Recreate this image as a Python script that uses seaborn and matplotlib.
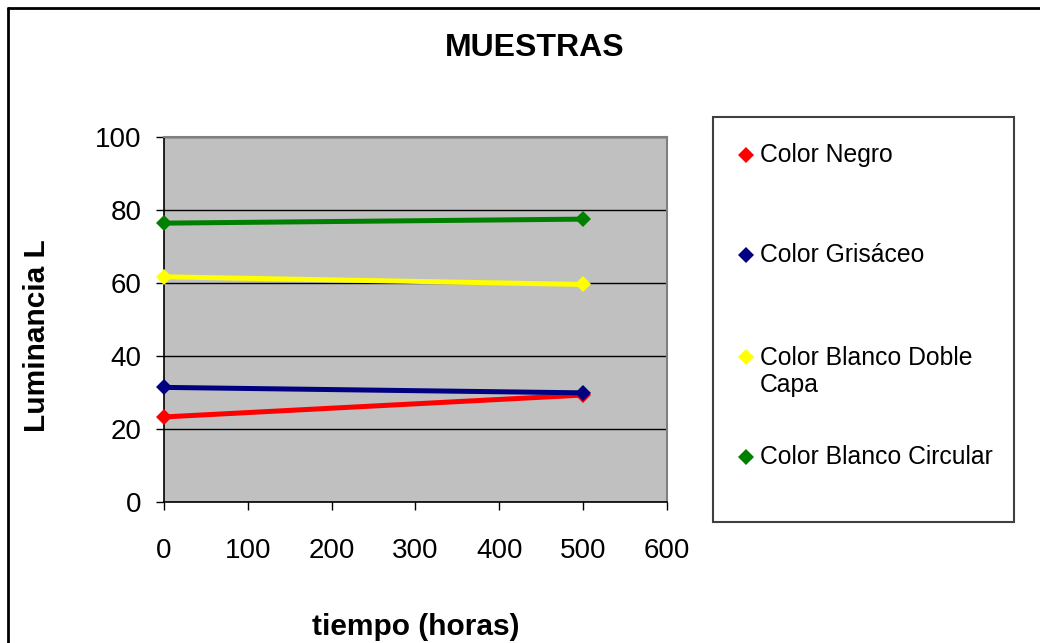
import numpy as np
import pandas as pd
import matplotlib.pyplot as plt
import seaborn as sns
from matplotlib.lines import Line2D
from matplotlib.patches import Rectangle

# datos
horas = [0, 500]
negro = [23.3, 29.3]
grisaceo = [31.4, 29.9]
blanco_doble = [61.7, 59.6]
blanco_circular = [76.4, 77.5]
series = ['Color Negro', 'Color Grisáceo', 'Color Blanco Doble\nCapa', 'Color Blanco Circular']
colores = ['#FF0000', '#000080', '#FFFF00', '#008000']
y_ticks = [0, 20, 40, 60, 80, 100]
x_ticks = [0, 100, 200, 300, 400, 500, 600]

df = pd.DataFrame({
    'tiempo': horas * 4,
    'L': negro + grisaceo + blanco_doble + blanco_circular,
    'serie': [s for s in series for _ in horas],
})

sns.set_style('white')
plt.rcParams['font.family'] = ['Liberation Sans', 'DejaVu Sans']
plt.rcParams['text.color'] = 'black'
plt.rcParams['xtick.color'] = 'black'
plt.rcParams['ytick.color'] = 'black'
plt.rcParams['axes.labelcolor'] = 'black'

fig = plt.figure(figsize=(10.4, 6.43), dpi=100)
ax = fig.add_axes([164/1040, 1 - 502/643, 503/1040, 365/643])

sns.lineplot(data=df, x='tiempo', y='L', hue='serie', palette=colores,
             marker='D', markersize=8, markeredgewidth=0, linewidth=3.6,
             legend=False, ax=ax, zorder=3, clip_on=False)

ax.set_facecolor('#C0C0C0')
ax.set_xlim(0, 600)
ax.set_ylim(0, 100)
ax.set_xticks(x_ticks)
ax.set_yticks(y_ticks)
ax.yaxis.grid(True, color='black', linewidth=1)
ax.set_axisbelow(True)
for lado in ['top', 'right']:
    ax.spines[lado].set_color('#808080')
    ax.spines[lado].set_linewidth(1.5)
for lado in ['left', 'bottom']:
    ax.spines[lado].set_color('black')
    ax.spines[lado].set_linewidth(1.2)
ax.tick_params(axis='x', bottom=True, direction='out', length=6, width=1, labelsize=20, pad=20)
ax.tick_params(axis='y', left=True, direction='out', length=6, width=1, labelsize=20, pad=10)
ax.set_xlabel('tiempo (horas)', fontsize=21.5, fontweight='bold')
ax.set_ylabel('Luminancia L', fontsize=21.5, fontweight='bold')
ax.xaxis.set_label_coords(0.5, -0.304)
ax.yaxis.set_label_coords(-0.224, 0.457)

fig.text(535/1040, 1 - 48/643, 'MUESTRAS', fontsize=23, fontweight='bold',
         ha='center', va='center')

# marco exterior (solo arriba e izquierda visibles)
fig.add_artist(Line2D([8/1040, 8/1040], [0, 1 - 8/643], color='black', linewidth=2))
fig.add_artist(Line2D([8/1040, 1], [1 - 8/643, 1 - 8/643], color='black', linewidth=2))

# caja de la leyenda, con las entradas colocadas a mano
fig.add_artist(Rectangle((713/1040, 1 - 522/643), 301/1040, 405/643,
                         transform=fig.transFigure, facecolor='white',
                         edgecolor='#404040', linewidth=1.5))
fila_y = [155, 255, 357, 457]
for etiqueta, c, yy in zip(series, colores, fila_y):
    fig.add_artist(Line2D([746/1040], [1 - yy/643], marker='D', linestyle='none',
                          color=c, markersize=8, markeredgewidth=0))
    n_lineas = etiqueta.count('\n') + 1
    yc = yy + (n_lineas - 1) * 14.5
    fig.text(760/1040, 1 - yc/643, etiqueta, fontsize=17.8, ha='left', va='center',
             linespacing=1.2)

fig.savefig('out.png', dpi=100)
